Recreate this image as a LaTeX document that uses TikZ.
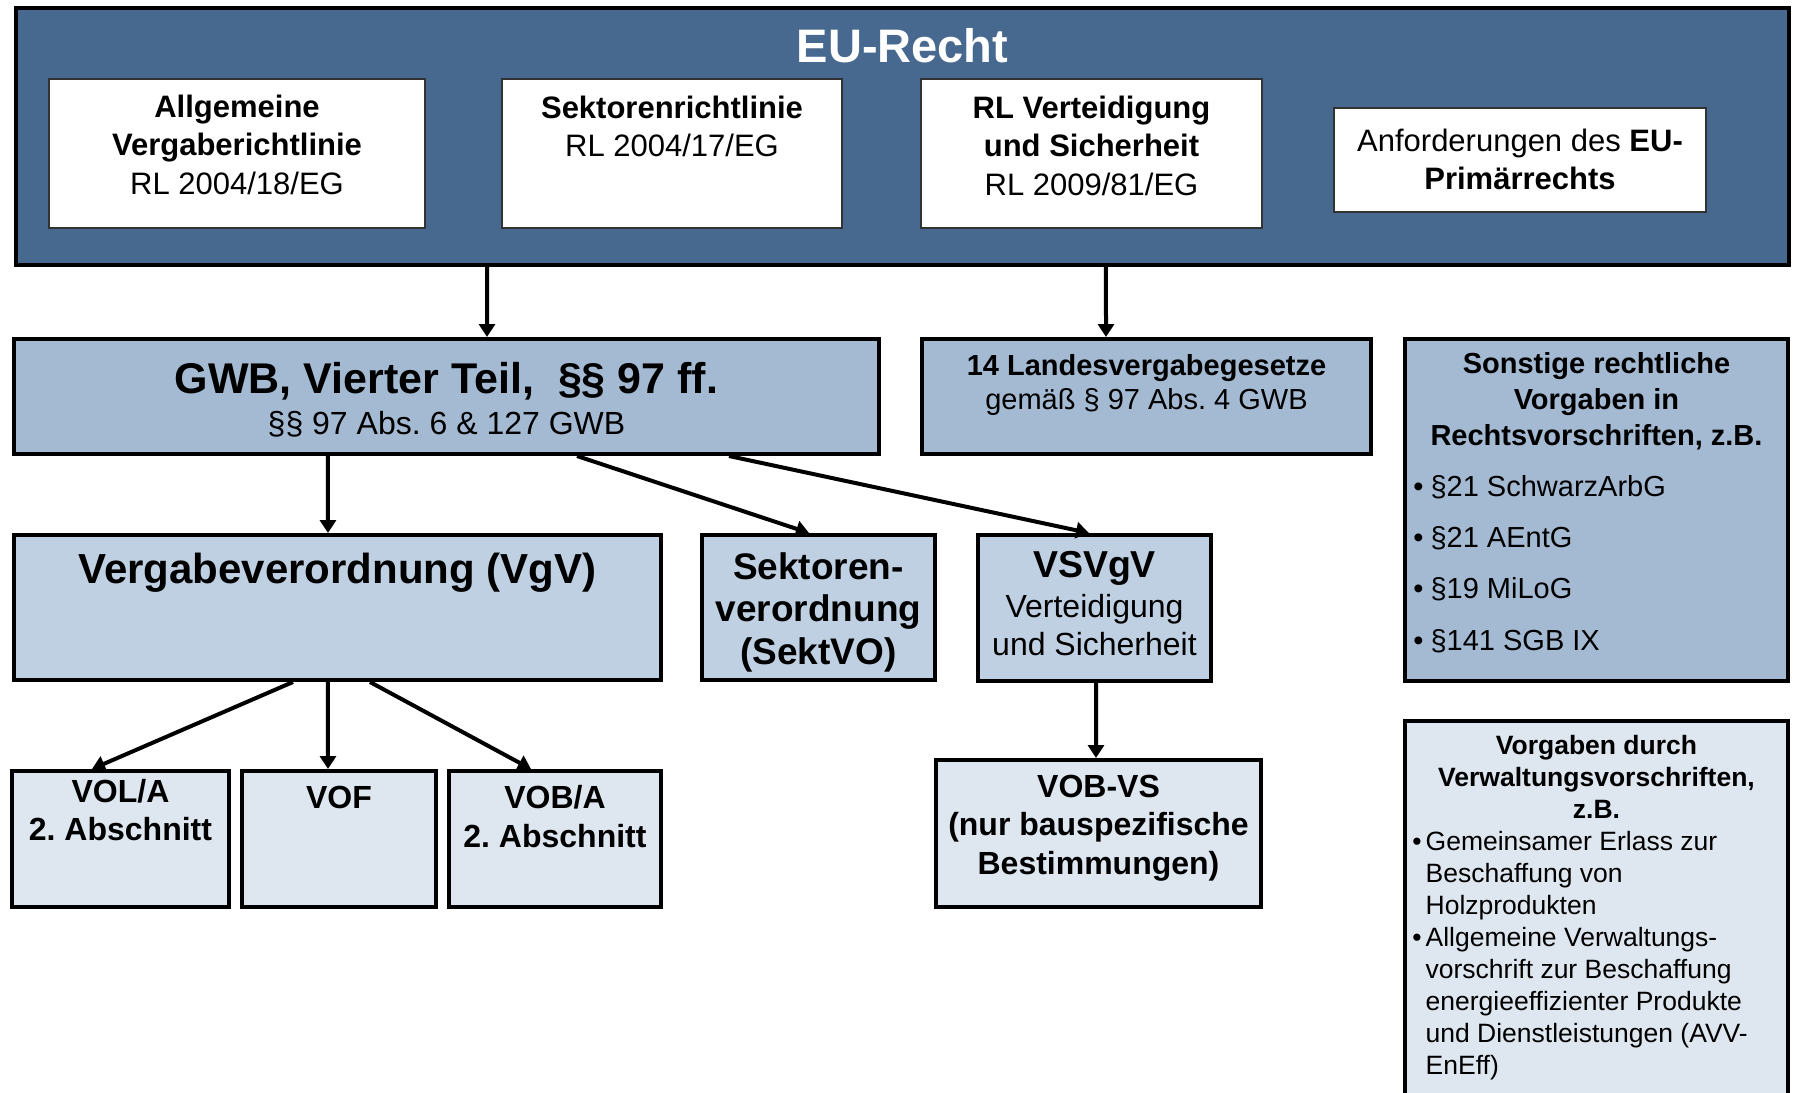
\documentclass[tikz,border=0pt]{standalone}
\usepackage{fontspec}
\setmainfont{Liberation Sans}
\frenchspacing
\usetikzlibrary{arrows.meta,calc}

\definecolor{eublue}{RGB}{72,105,143}
\definecolor{midblue}{RGB}{164,185,210}
\definecolor{lightblue}{RGB}{191,208,226}
\definecolor{paleblue}{RGB}{222,230,239}

\tikzset{
  eubox/.style={draw=black,line width=2pt,fill=eublue,inner sep=0pt},
  rlbox/.style={draw=black!80,line width=0.75pt,fill=white,inner sep=0pt},
  midbox/.style={draw=black,line width=2pt,fill=midblue,inner sep=0pt},
  lightbox/.style={draw=black,line width=2pt,fill=lightblue,inner sep=0pt},
  palebox/.style={draw=black,line width=2pt,fill=paleblue,inner sep=0pt},
  txt/.style={anchor=base,align=center,inner sep=0pt},
  lst/.style={anchor=base west,align=left,inner sep=0pt},
  arr/.style={line width=2pt,-{Triangle[length=6.5pt,width=8pt]}},
}

\newcommand{\fs}[2]{\fontsize{#1}{#2}\selectfont}

\begin{document}
\begin{tikzpicture}[x=0.5pt,y=0.5pt]
\useasboundingbox (0,0) rectangle (1796,-1093);

% EU-Recht (Textknoten sitzen auf der Grundlinie der letzten Zeile)
\node[eubox,minimum width=886.5pt,minimum height=128.5pt] (eu) at (902.5,-136.5) {};
\node[txt,text=white,font=\fs{23.5}{28}\bfseries] (eut) at (902.5,-62) {EU-Recht};
\node[rlbox,minimum width=188pt,minimum height=74.5pt] (rl1) at (237,-153.5) {};
\node[rlbox,minimum width=170pt,minimum height=74.5pt] (rl2) at (672,-153.5) {};
\node[rlbox,minimum width=170.5pt,minimum height=74.5pt] (rl3) at (1091.5,-153.5) {};
\node[rlbox,minimum width=186pt,minimum height=52pt] (prim) at (1520,-160) {};
\node[txt,font=\fs{15.5}{19.25}] (rl1t) at (237,-194)
  {\textbf{Allgemeine}\\\textbf{Vergaberichtlinie}\\RL 2004/18/EG};
\node[txt,font=\fs{15.5}{19.25}] (rl2t) at (672,-156.5)
  {\textbf{Sektorenrichtlinie}\\RL 2004/17/EG};
\node[txt,font=\fs{15.5}{19.25}] (rl3t) at (1091.5,-195)
  {\textbf{RL Verteidigung}\\\textbf{und Sicherheit}\\RL 2009/81/EG};
\node[txt,font=\fs{15.5}{19}] (primt) at (1520,-189)
  {Anforderungen des \textbf{EU-}\\\textbf{Primärrechts}};

% zweite Ebene
\node[midbox,minimum width=432.5pt,minimum height=57.5pt] (gwb) at (446.5,-396.5) {};
\node[txt,font=\fs{21.5}{25}\bfseries] (gwbt) at (446.5,-393) {GWB, Vierter Teil,\ \ §§ 97 ff.};
\node[txt,font=\fs{16}{19}] (gwbs) at (446.5,-434) {§§ 97 Abs. 6 \& 127 GWB};
\node[midbox,minimum width=224.5pt,minimum height=57.5pt] (lvg) at (1146.5,-396.5) {};
\node[txt,font=\fs{14.5}{17}] (lvgt) at (1146.5,-409)
  {\textbf{14 Landesvergabegesetze}\\gemäß § 97 Abs. 4 GWB};
\node[midbox,minimum width=191.5pt,minimum height=171pt] (son) at (1596.5,-510) {};
\node[txt,font=\fs{14.5}{18}\bfseries] (sont) at (1596.5,-445)
  {Sonstige rechtliche\\Vorgaben in\\Rechtsvorschriften, z.B.};
\node[lst,font=\fs{14.5}{25.65}] (sonl) at (1413,-650)
  {•\hspace{3.5pt}§21 SchwarzArbG\\•\hspace{3.5pt}§21 AEntG\\•\hspace{3.5pt}§19 MiLoG\\•\hspace{3.5pt}§141 SGB IX};

% Verordnungen
\node[lightbox,minimum width=323.5pt,minimum height=72.5pt] (vgv) at (337.5,-607.5) {};
\node[txt,font=\fs{21}{25}\bfseries] (vgvt) at (337.5,-583) {Vergabeverordnung (VgV)};
\node[lightbox,minimum width=116.5pt,minimum height=72.5pt] (sekt) at (818.5,-607.5) {};
\node[txt,font=\fs{18.5}{21.25}\bfseries] (sektt) at (818.5,-664) {Sektoren-\\verordnung\\(SektVO)};
\node[lightbox,minimum width=116.5pt,minimum height=73pt] (vsv) at (1094.5,-608) {};
\node[txt,font=\fs{18.75}{22}\bfseries] (vsvt) at (1094.5,-577) {VSVgV};
\node[txt,font=\fs{16}{19}] (vsvs) at (1094.5,-655) {Verteidigung\\und Sicherheit};

% Vergabeordnungen
\node[palebox,minimum width=108.5pt,minimum height=68pt] (vol) at (120.5,-839) {};
\node[txt,font=\fs{16}{19}\bfseries] (volt) at (120.5,-840) {VOL/A\\2. Abschnitt};
\node[palebox,minimum width=97pt,minimum height=68pt] (vof) at (339,-839) {};
\node[txt,font=\fs{16}{19}\bfseries] (voft) at (339,-808) {VOF};
\node[palebox,minimum width=106pt,minimum height=68pt] (vob) at (555,-839) {};
\node[txt,font=\fs{16}{19.5}\bfseries] (vobt) at (555,-847) {VOB/A\\2. Abschnitt};
\node[palebox,minimum width=162.5pt,minimum height=73.5pt] (vbvs) at (1098.5,-833.5) {};
\node[txt,font=\fs{16}{19.25}\bfseries] (vbvst) at (1098.5,-874)
  {VOB-VS\\(nur bauspezifische\\Bestimmungen)};
\node[palebox,minimum width=191.5pt,minimum height=193.5pt] (vwv) at (1596.5,-914.5) {};
\node[txt,font=\fs{13.25}{16}\bfseries] (vwvt) at (1596.5,-818)
  {Vorgaben durch\\Verwaltungsvorschriften,\\z.B.};
\node[lst,font=\fs{13.25}{16}] (vwvl) at (1412,-1074)
  {•\hspace{2pt}Gemeinsamer Erlass zur\\\hphantom{•\hspace{2pt}}Beschaffung von\\\hphantom{•\hspace{2pt}}Holzprodukten\\
   •\hspace{2pt}Allgemeine Verwaltungs-\\\hphantom{•\hspace{2pt}}vorschrift zur Beschaffung\\\hphantom{•\hspace{2pt}}energieeffizienter Produkte\\
   \hphantom{•\hspace{2pt}}und Dienstleistungen (AVV-\\\hphantom{•\hspace{2pt}}EnEff)};

% Pfeile
\draw[arr] ($(eu.south west)!0.2662!(eu.south east)$) -- ($(gwb.north west)!0.5466!(gwb.north east)$);
\draw[arr] ($(eu.south west)!0.6145!(eu.south east)$) -- ($(lvg.north west)!0.4106!(lvg.north east)$);
\draw[arr] ($(gwb.south west)!0.3636!(gwb.south east)$) -- ($(vgv.north west)!0.4854!(vgv.north east)$);
\draw[arr] ($(gwb.south west)!0.6502!(gwb.south east)$) -- ($(sekt.north west)!0.46!(sekt.north east)$);
\draw[arr] ($(gwb.south west)!0.8251!(gwb.south east)$) -- ($(vsv.north west)!0.4768!(vsv.north east)$);
\draw[arr] ($(vgv.south west)!0.4316!(vgv.south east)$) -- ($(vol.north west)!0.371!(vol.north east)$);
\draw[arr] ($(vgv.south west)!0.4854!(vgv.south east)$) -- ($(vof.north west)!0.4444!(vof.north east)$);
\draw[arr] ($(vgv.south west)!0.5499!(vgv.south east)$) -- ($(vob.north west)!0.3889!(vob.north east)$);
\draw[arr] ($(vsv.south west)!0.5063!(vsv.south east)$) -- ($(vbvs.north west)!0.4924!(vbvs.north east)$);
\end{tikzpicture}
\end{document}
